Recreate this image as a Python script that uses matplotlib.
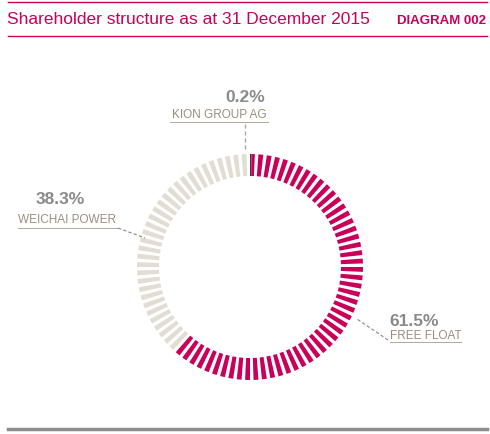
import matplotlib
matplotlib.use("Agg")
import matplotlib.pyplot as plt
from matplotlib.patches import Wedge

plt.rcParams['font.family'] = ['Liberation Sans', 'DejaVu Sans']

# shares clockwise from 12 o'clock
names = ["KION GROUP AG", "FREE FLOAT", "WEICHAI POWER"]
shares = [0.2, 61.5, 38.3]
colors = ["#3a3a3a", "#c8005a", "#e2ddd2"]

MAGENTA = "#c8005a"
n_seg = 84
cx, cy, r_out, width = 250, 268, 113, 22

fig = plt.figure(figsize=(4.9, 4.35), dpi=100)
ax = fig.add_axes([0, 0, 1, 1])
ax.set_xlim(0, 490)
ax.set_ylim(435, 0)
ax.axis('off')

# category intervals in degrees (clockwise from top)
bounds = []
acc = 0
for s in shares:
    bounds.append((acc * 3.6, (acc + s) * 3.6))
    acc += s

step = 360 / n_seg
gap = step * 0.42
for i in range(n_seg):
    a0, a1 = i * step, i * step + step - gap
    for (b0, b1), c in zip(bounds, colors):
        lo, hi = max(a0, b0), min(a1, b1)
        if hi > lo:
            # y axis is inverted, so matplotlib angles run clockwise here
            ax.add_patch(Wedge((cx, cy), r_out, lo - 90, hi - 90, width=width,
                               facecolor=c, edgecolor='none'))

# header
ax.plot([8, 487], [3, 3], color=MAGENTA, lw=1)
ax.plot([8, 487], [37, 37], color=MAGENTA, lw=1)
ax.plot([8, 487], [430, 430], color="#8c8c8c", lw=2.5)
ax.text(7, 20, "Shareholder structure as at 31 December 2015", color=MAGENTA, fontsize=12.5, va='center')
ax.text(486, 21, "DIAGRAM 002", color=MAGENTA, fontsize=9.5, fontweight='bold', va='center', ha='right')

pct_c, lab_c = "#8a8a8a", "#9a8e80"
# KION
ax.text(245, 98, f"{shares[0]}%", color=pct_c, fontsize=12.5, fontweight='bold', ha='center', va='center')
ax.text(219, 115, names[0], color=lab_c, fontsize=8.5, ha='center', va='center')
ax.plot([170, 268], [123, 123], color="#b0a89c", lw=0.7)
ax.plot([245, 245], [125, 152], color="#aaaaaa", lw=1, ls=(0, (3, 2)))
# WEICHAI
ax.text(36, 200, f"{shares[2]}%", color=pct_c, fontsize=12.5, fontweight='bold', ha='left', va='center')
ax.text(18, 220, names[2], color=lab_c, fontsize=8.5, ha='left', va='center')
ax.plot([18, 118], [229, 229], color="#b0a89c", lw=0.7)
ax.plot([118, 145], [229, 239], color="#888888", lw=0.8, ls=(0, (3, 2)))
# FREE FLOAT
ax.text(389, 322, f"{shares[1]}%", color=pct_c, fontsize=12.5, fontweight='bold', ha='left', va='center')
ax.text(390, 336, names[1], color=lab_c, fontsize=8.5, ha='left', va='center')
ax.plot([390, 461], [343, 343], color="#b0a89c", lw=0.7)
ax.plot([388, 357], [341, 320], color="#888888", lw=0.8, ls=(0, (3, 2)))

fig.savefig("out.png", dpi=100)
